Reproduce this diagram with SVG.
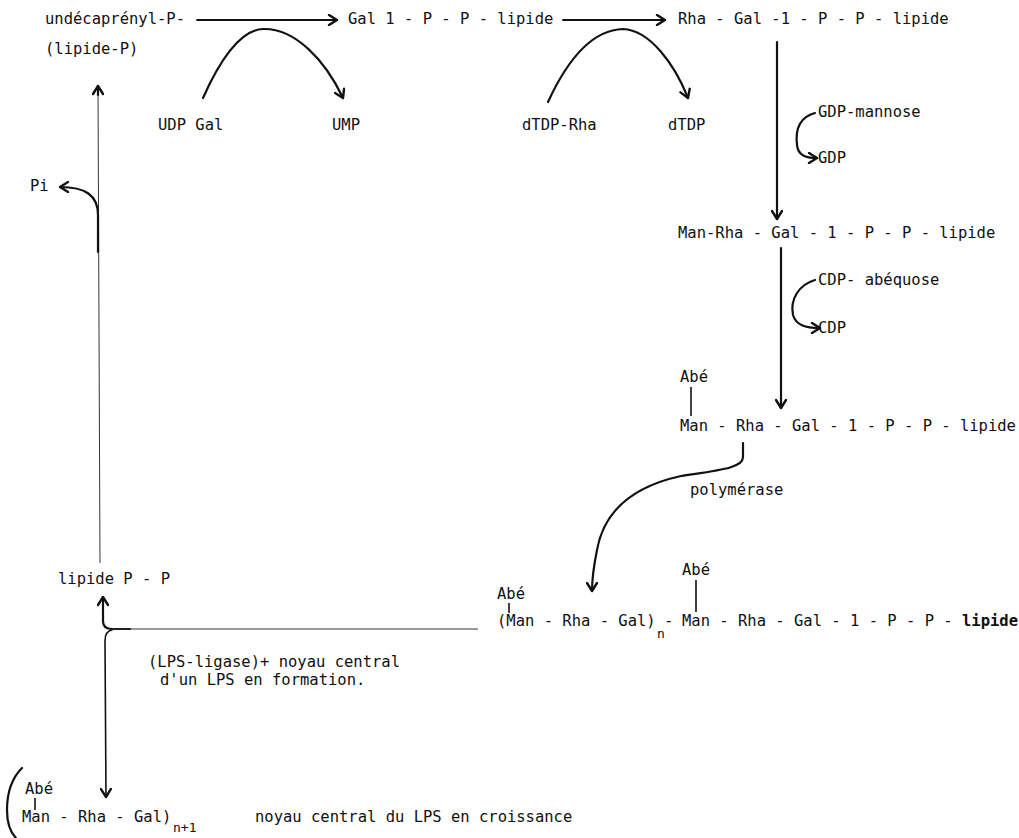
<svg xmlns="http://www.w3.org/2000/svg" width="1019" height="838" viewBox="0 0 1019 838">
<style>
text{font-family:"DejaVu Sans Mono","Liberation Mono",monospace;font-size:15.5px;fill:#111}
.sub{font-size:13px}
.c{fill:none;stroke:#111;stroke-width:2.2;stroke-linecap:round;stroke-linejoin:round}
.thin{fill:none;stroke:#333;stroke-width:1}
.bar{stroke:#111;stroke-width:1.6}
</style>
<defs>
<marker id="ah" viewBox="0 0 12 12" refX="10" refY="6" markerWidth="12" markerHeight="12" markerUnits="userSpaceOnUse" orient="auto">
<path d="M2,1 L10,6 L2,11" fill="none" stroke="#111" stroke-width="2.4" stroke-linecap="round" stroke-linejoin="round"/>
</marker>
</defs>
<rect width="1019" height="838" fill="#fff"/>
<g id="connectors">
<path class="c" style="stroke-width:1.8" d="M197,20 L337,20" marker-end="url(#ah)"/>
<path class="c" style="stroke-width:1.8" d="M563,20 L665,20" marker-end="url(#ah)"/>
<path class="c" d="M203,98 C220,60 240,30 263,29 C295,28 325,60 343,98" marker-end="url(#ah)"/>
<path class="c" d="M548,102 C565,65 590,30 623,29 C650,30 675,65 688,98" marker-end="url(#ah)"/>
<path class="c" d="M777,42 L777,219" marker-end="url(#ah)"/>
<path class="c" d="M815,113 C800,117 795,128 797,145 C798,155 805,158 817,158" marker-end="url(#ah)"/>
<path class="c" d="M781,248 L781,408" marker-end="url(#ah)"/>
<path class="c" d="M815,280 C798,285 790,300 793,315 C796,325 805,328 820,328" marker-end="url(#ah)"/>
<path class="c" d="M743,443 L743,457 C743,468 720,470 681,476 C640,485 605,505 597,550 C593,570 592,580 592,591" marker-end="url(#ah)"/>
<path class="thin" d="M100,563 L98,88"/>
<path class="c" d="M98,95 L98,86" marker-end="url(#ah)"/>
<path class="c" d="M98,252 L98,215 C98,195 85,187 60,187" marker-end="url(#ah)"/>
<path class="c" d="M130,629 L112,629 Q103,629 103,621 L103,597" marker-end="url(#ah)"/>
<path class="c" style="stroke-width:1.6" d="M112,630 Q105,631 105,641 L106,797" marker-end="url(#ah)"/>
<path class="thin" d="M112,629 L478,629"/>
</g>
<g id="n-undecaprenyl">
<text x="45" y="24">undécaprényl-P-</text>
<text x="45" y="54">(lipide-P)</text>
</g>
<g id="n-gal-pp"><text x="348" y="24">Gal 1 - P - P - lipide</text></g>
<g id="n-rha-gal"><text x="678" y="24">Rha - Gal -1 - P - P - lipide</text></g>
<g id="n-udpgal"><text x="158" y="130">UDP Gal</text></g>
<g id="n-ump"><text x="332" y="130">UMP</text></g>
<g id="n-dtdprha"><text x="522" y="130">dTDP-Rha</text></g>
<g id="n-dtdp"><text x="668" y="130">dTDP</text></g>
<g id="n-gdpmannose"><text x="818" y="117">GDP-mannose</text></g>
<g id="n-gdp"><text x="818" y="163">GDP</text></g>
<g id="n-man-rha-gal"><text x="678" y="238">Man-Rha - Gal - 1 - P - P - lipide</text></g>
<g id="n-cdpabequose"><text x="818" y="285">CDP- abéquose</text></g>
<g id="n-cdp"><text x="818" y="333">CDP</text></g>
<g id="n-abe-man-rha-gal">
<text x="680" y="382">Abé</text>
<line class="bar" x1="691" y1="387" x2="691" y2="416"/>
<text x="680" y="431">Man - Rha - Gal - 1 - P - P - lipide</text>
</g>
<g id="n-polymerase"><text x="690" y="495">polymérase</text></g>
<g id="n-polymer">
<text x="497" y="599">Abé</text>
<line class="bar" x1="509" y1="603" x2="509" y2="613"/>
<text x="497" y="626">(Man - Rha - Gal)</text>
<text class="sub" x="657" y="638">n</text>
<text x="664" y="626">-</text>
<text x="682" y="575">Abé</text>
<line class="bar" x1="696" y1="580" x2="696" y2="612"/>
<text x="682" y="626">Man - Rha - Gal - 1 - P - P - <tspan font-weight="bold">lipide</tspan></text>
</g>
<g id="n-pi"><text x="30" y="191">Pi</text></g>
<g id="n-lipidepp"><text x="58" y="584">lipide P - P</text></g>
<g id="n-ligase">
<text x="148" y="667">(LPS-ligase)+ noyau central</text>
<text x="160" y="685">d'un LPS en formation.</text>
</g>
<g id="n-product">
<path class="c" d="M22,768 C10,780 7,795 7,810 C7,822 10,832 16,838"/>
<text x="25" y="794">Abé</text>
<line class="bar" x1="35" y1="798" x2="35" y2="810"/>
<text x="22" y="822">Man - Rha - Gal)</text>
<text class="sub" x="173" y="832">n+1</text>
<text x="255" y="822">noyau central du LPS en croissance</text>
</g>
</svg>
